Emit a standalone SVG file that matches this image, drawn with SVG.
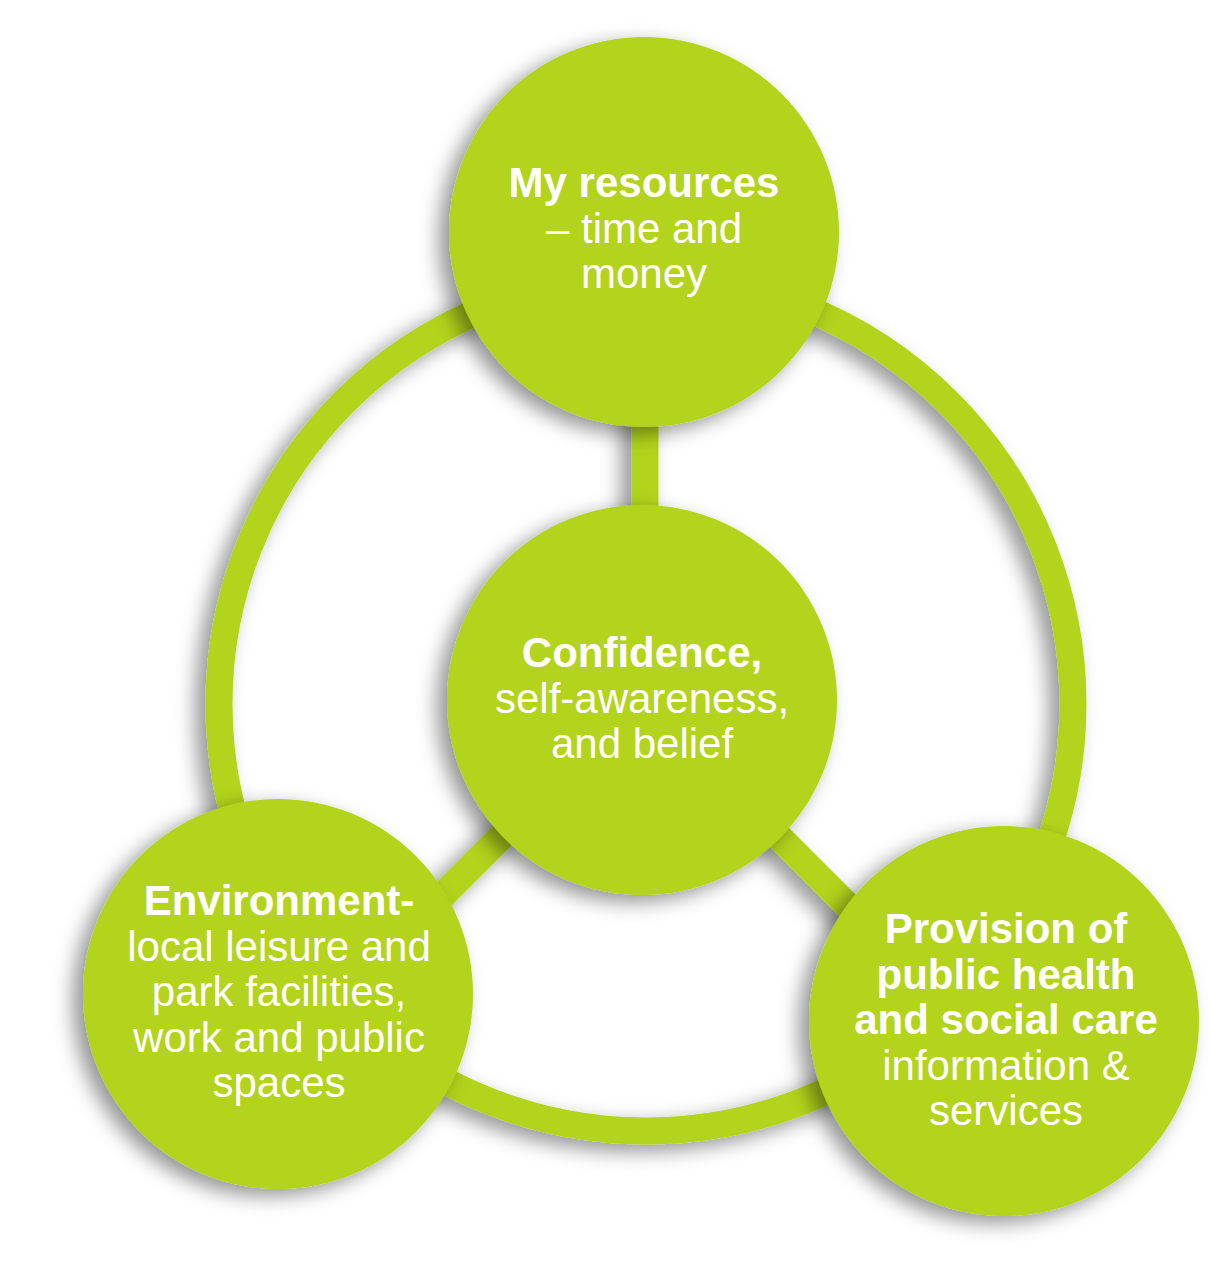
<svg xmlns="http://www.w3.org/2000/svg" width="1211" height="1269" viewBox="0 0 1211 1269">
  <defs>
    <filter id="shadow" x="-30%" y="-30%" width="160%" height="160%">
      <feDropShadow dx="-10" dy="7" stdDeviation="10" flood-color="#000000" flood-opacity="0.42"/>
    </filter>
    <style>
      .node { fill: #B3D31B; filter: url(#shadow); }
      .link { stroke: #B3D31B; stroke-width: 27; fill: none; }
      .t { font-family: "Liberation Sans", Arial, sans-serif; font-size: 42px; fill: #FFFFFF; text-anchor: middle; }
      .b { font-weight: bold; }
    </style>
  </defs>
  <rect width="1211" height="1269" fill="#FFFFFF"/>

  <g id="connectors" filter="url(#shadow)">
    <circle class="link" cx="646" cy="704" r="427"/>
    <line class="link" x1="645" y1="232" x2="645" y2="700" stroke-width="26"/>
    <line class="link" x1="640" y1="698" x2="380" y2="958"/>
    <line class="link" x1="642" y1="700" x2="900" y2="958"/>
  </g>

  <g id="node-resources">
    <circle class="node" cx="644" cy="232" r="195"/>
    <text class="t b" x="644" y="197">My resources</text>
    <text class="t" x="644" y="243">– time and</text>
    <text class="t" x="644" y="288">money</text>
  </g>

  <g id="node-confidence">
    <circle class="node" cx="642" cy="700" r="195"/>
    <text class="t b" x="642" y="667">Confidence,</text>
    <text class="t" x="642" y="713">self-awareness,</text>
    <text class="t" x="642" y="758">and belief</text>
  </g>

  <g id="node-environment">
    <circle class="node" cx="278" cy="994" r="195"/>
    <text class="t b" x="279" y="915">Environment-</text>
    <text class="t" x="279" y="961">local leisure and</text>
    <text class="t" x="279" y="1006">park facilities,</text>
    <text class="t" x="279" y="1052">work and public</text>
    <text class="t" x="279" y="1097">spaces</text>
  </g>

  <g id="node-provision">
    <circle class="node" cx="1004" cy="1021" r="195"/>
    <text class="t b" x="1006" y="943">Provision of</text>
    <text class="t b" x="1006" y="989">public health</text>
    <text class="t b" x="1006" y="1034">and social care</text>
    <text class="t" x="1006" y="1080">information &amp;</text>
    <text class="t" x="1006" y="1125">services</text>
  </g>
</svg>
